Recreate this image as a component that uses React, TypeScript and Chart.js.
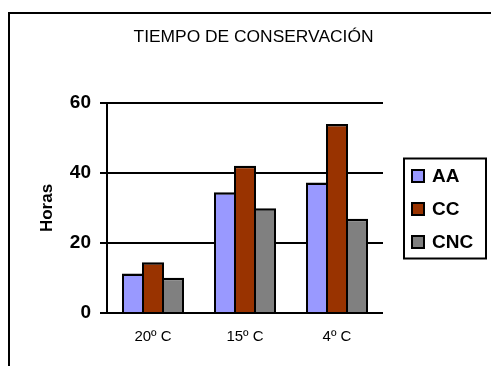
import React, { useEffect, useRef } from "react";
import { Chart, registerables } from "chart.js";

Chart.register(...registerables);

const FONT = "'Liberation Sans', Arial, sans-serif";

const categories = ["20º C", "15º C", "4º C"];
const seriesNames = ["AA", "CC", "CNC"];
const aaValues = [11.3, 34.5, 37.3];
const ccValues = [14.5, 42.1, 54];
const cncValues = [10.1, 29.9, 26.9];
const seriesColors = ["#9999FF", "#993300", "#808080"];
const yTicks = [0, 20, 40, 60];

// Outer frame plus a boxed legend on the right, like a spreadsheet chart.
const framePlugin = {
  id: "frameAndLegend",
  beforeDraw(chart: any) {
    const ctx = chart.ctx;
    ctx.save();
    ctx.fillStyle = "#ffffff";
    ctx.fillRect(0, 0, chart.width, chart.height);
    ctx.restore();
  },
  afterDraw(chart: any) {
    const ctx = chart.ctx;
    ctx.save();
    ctx.strokeStyle = "#000000";
    ctx.lineWidth = 2;
    ctx.strokeRect(9, 13, 1000, 1000);

    // legend box
    ctx.strokeRect(404, 158.5, 82, 100);
    const rows = [176, 209, 242];
    ctx.font = `bold 19px ${FONT}`;
    ctx.textBaseline = "middle";
    ctx.textAlign = "left";
    chart.data.datasets.forEach((ds: any, i: number) => {
      const cy = rows[i];
      ctx.fillStyle = ds.backgroundColor;
      ctx.fillRect(412, cy - 6, 12, 12);
      ctx.lineWidth = 2;
      ctx.strokeStyle = "#000000";
      ctx.strokeRect(412, cy - 6, 12, 12);
      ctx.fillStyle = "#000000";
      ctx.fillText(ds.label, 432, cy + 1);
    });
    ctx.restore();
  },
};

export default function App() {
  const canvasRef = useRef<HTMLCanvasElement | null>(null);

  useEffect(() => {
    if (!canvasRef.current) return;
    const values = [aaValues, ccValues, cncValues];
    const chart = new Chart(canvasRef.current, {
      type: "bar",
      data: {
        labels: categories,
        datasets: seriesNames.map((name, i) => ({
          label: name,
          data: values[i],
          backgroundColor: seriesColors[i],
          borderColor: "#000000",
          borderWidth: { top: 2.5, left: 2, right: 2, bottom: 0 } as any,
          borderSkipped: "start",
          inflateAmount: 0,
          // neighbouring bars overlap by their outline so they share one edge
          categoryPercentage: 60 / 92,
          barPercentage: 1.1,
          yAxisID: "y",
        })),
      },
      options: {
        responsive: false,
        animation: false,
        layout: { padding: { left: 16, right: 0, top: 0, bottom: 0 } },
        plugins: {
          legend: { display: false },
          tooltip: { enabled: false },
          title: {
            display: true,
            text: "TIEMPO DE CONSERVACIÓN",
            color: "#000000",
            font: { family: FONT, size: 17.4, weight: "normal", lineHeight: 1.2 },
            padding: { top: 27, bottom: 55.1 },
          },
        },
        scales: {
          x: {
            grid: { display: false },
            border: { display: false },
            ticks: { color: "#000000", font: { family: FONT, size: 15 }, padding: 7 },
            afterFit: (s: any) => { s.height = 53; },
          },
          y: {
            position: "left",
            min: 0,
            max: 60,
            afterBuildTicks: (s: any) => { s.ticks = yTicks.map((v) => ({ value: v })); },
            grid: { color: "#000000", lineWidth: 2, drawTicks: true, tickLength: 7, tickColor: "#000000" },
            border: { display: true, color: "#000000", width: 2 },
            ticks: { color: "#000000", font: { family: FONT, size: 19, weight: "bold" }, padding: 9 },
            title: {
              display: true,
              text: "Horas",
              color: "#000000",
              font: { family: FONT, size: 17, weight: "bold", lineHeight: 1.2 },
              padding: { top: 21, bottom: 0 },
            },
            afterFit: (s: any) => { s.width = 91; },
          },
          // keeps room on the right for the boxed legend
          yRight: {
            position: "right",
            display: true,
            grid: { display: false },
            border: { display: false },
            ticks: { display: false },
            afterFit: (s: any) => { s.width = 108; },
          },
        },
      },
      plugins: [framePlugin],
    });
    return () => chart.destroy();
  }, []);

  return (
    <div style={{ position: "fixed", left: 0, top: 0, width: 491, height: 366 }}>
      <canvas ref={canvasRef} width={491} height={366} />
    </div>
  );
}
